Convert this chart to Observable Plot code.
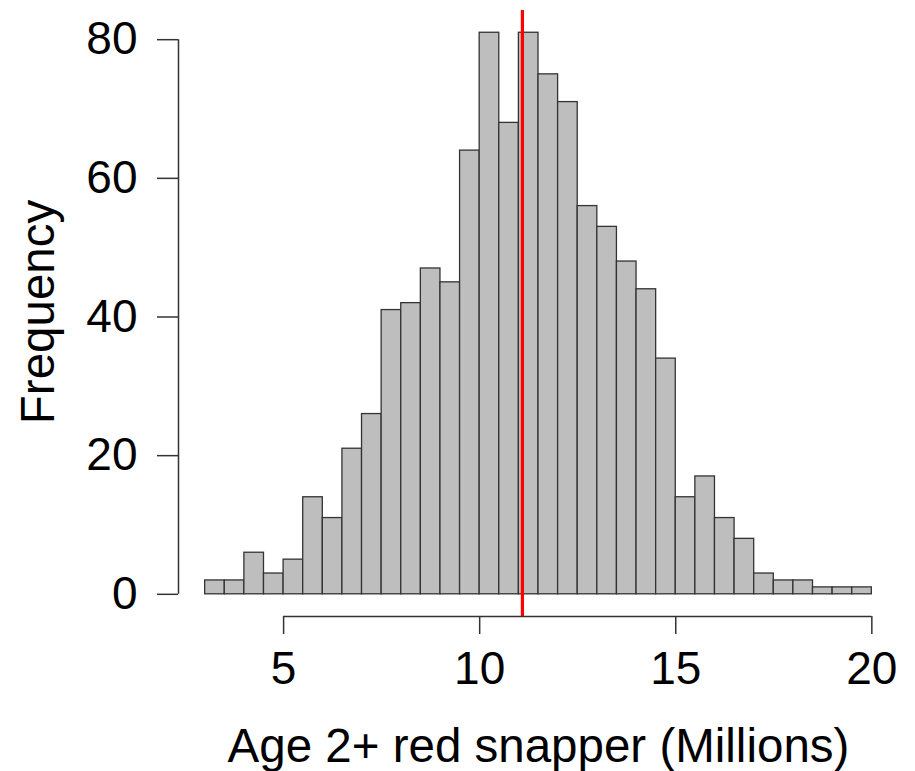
<!doctype html>
<html>
<head>
<meta charset="utf-8">
<style>
  body { margin: 0; background: #fff; }
  #myplot svg { display: block; }
</style>
</head>
<body>
<div id="myplot"></div>
<script src="https://cdn.jsdelivr.net/npm/d3@7"></script>
<script src="https://cdn.jsdelivr.net/npm/@observablehq/plot@0.6"></script>
<script>
  // histogram bin edges (millions) and counts per bin
  const binStarts = [3, 3.5, 4, 4.5, 5, 5.5, 6, 6.5, 7, 7.5, 8, 8.5, 9, 9.5, 10, 10.5, 11,
    11.5, 12, 12.5, 13, 13.5, 14, 14.5, 15, 15.5, 16, 16.5, 17, 17.5, 18, 18.5, 19, 19.5];
  const binEnds = [3.5, 4, 4.5, 5, 5.5, 6, 6.5, 7, 7.5, 8, 8.5, 9, 9.5, 10, 10.5, 11, 11.5,
    12, 12.5, 13, 13.5, 14, 14.5, 15, 15.5, 16, 16.5, 17, 17.5, 18, 18.5, 19, 19.5, 20];
  const counts = [2, 2, 6, 3, 5, 14, 11, 21, 26, 41, 42, 47, 45, 64, 81, 68, 81,
    75, 71, 56, 53, 48, 44, 34, 14, 17, 11, 8, 3, 2, 2, 1, 1, 1];

  const xTicks = [5, 10, 15, 20];
  const yTicks = [0, 20, 40, 60, 80];
  const refValue = 11.09; // red reference line

  const xTitle = "Age 2+ red snapper (Millions)";
  const yTitle = "Frequency";

  const bars = counts.map((c, i) => ({ x1: binStarts[i], x2: binEnds[i], y: c }));

  const axisColor = "#333";
  const fs = 46;
  const titleFs = 47.5;

  const plot = Plot.plot({
    width: 915,
    height: 771,
    marginLeft: 178,
    marginRight: 17,
    marginTop: 17,
    marginBottom: 155,
    style: { fontFamily: "'Liberation Sans', Arial, sans-serif", background: "#fff", color: "#000" },
    x: { domain: [2.32, 20.68] },
    y: { domain: [-3.2, 83.2] },
    marks: [
      Plot.rectY(bars, { x1: "x1", x2: "x2", y1: 0, y2: "y", fill: "#bebebe", stroke: "#333", strokeWidth: 1.3, inset: 0 }),
      Plot.ruleX([refValue], { y1: -3.2, y2: 84.2, stroke: "#ff0000", strokeWidth: 3.2 }),
      // R-style axes
      Plot.ruleX([2.32], { y1: 0, y2: 80, stroke: axisColor, strokeWidth: 1.5 }),
      Plot.ruleY([-3.2], { x1: 5, x2: 20, stroke: axisColor, strokeWidth: 1.5 }),
      Plot.axisY({ ticks: yTicks, tickSize: 21, tickPadding: 20, fontSize: fs, label: null, stroke: axisColor, strokeWidth: 1.5, color: "#000" }),
      Plot.axisX({ ticks: xTicks, tickSize: 18, tickPadding: 17, fontSize: fs, label: null, stroke: axisColor, strokeWidth: 1.5, color: "#000" }),
      Plot.text([xTitle], { frameAnchor: "bottom", dy: 130, lineAnchor: "middle", textAnchor: "middle", fontSize: titleFs, fill: "#000" }),
      Plot.text([yTitle], { frameAnchor: "left", dx: -140, dy: -5, rotate: -90, lineAnchor: "middle", textAnchor: "middle", fontSize: titleFs, fill: "#000" })
    ]
  });

  document.querySelector("#myplot").append(plot);
</script>
</body>
</html>
